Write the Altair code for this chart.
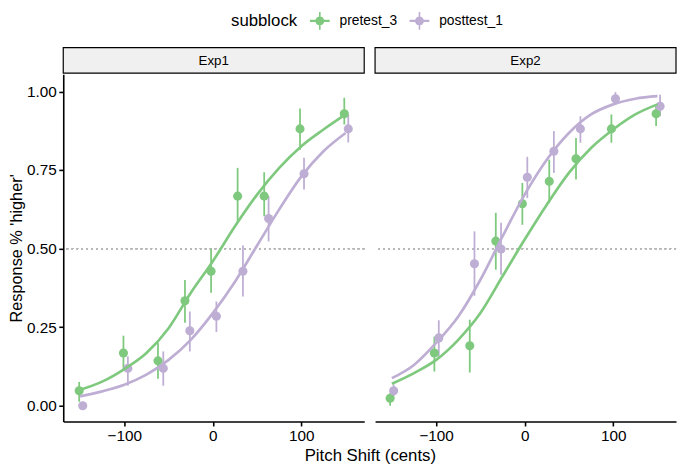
import altair as alt
import pandas as pd

FONT = "Liberation Sans"
SERIES = ["pretest_3", "posttest_1"]
COLORS = ["#7fc97f", "#beaed4"]
PANELS = ["Exp1", "Exp2"]

# ---- observed points (x already dodged as drawn), means and error bar ends ----
e1_pre_x = [-151, -101, -62, -31.5, -2, 28, 58, 98.5, 148.5]
e1_pre_y = [0.048, 0.168, 0.143, 0.334, 0.428, 0.667, 0.667, 0.881, 0.929]
e1_pre_lo = [0.013, 0.115, 0.086, 0.264, 0.36, 0.583, 0.603, 0.815, 0.895]
e1_pre_hi = [0.076, 0.223, 0.2, 0.40, 0.50, 0.757, 0.743, 0.946, 0.98]

e1_post_x = [-147, -96, -56, -26, 4, 34, 63, 103, 153]
e1_post_y = [0.0, 0.119, 0.119, 0.239, 0.285, 0.428, 0.596, 0.738, 0.881]
e1_post_lo = [0.0, 0.064, 0.064, 0.173, 0.235, 0.348, 0.523, 0.688, 0.838]
e1_post_hi = [0.0, 0.157, 0.173, 0.30, 0.332, 0.51, 0.667, 0.789, 0.927]

e2_pre_x = [-152, -102, -62, -32.6, -2.6, 27.8, 58, 98, 148.5]
e2_pre_y = [0.024, 0.168, 0.191, 0.524, 0.643, 0.714, 0.786, 0.881, 0.929]
e2_pre_lo = [0.0, 0.109, 0.106, 0.433, 0.576, 0.645, 0.72, 0.837, 0.89]
e2_pre_hi = [0.04, 0.22, 0.274, 0.614, 0.709, 0.783, 0.852, 0.927, 0.953]

e2_post_x = [-148, -97, -56.7, -26.7, 3, 33, 63, 102.6, 153]
e2_post_y = [0.048, 0.216, 0.452, 0.499, 0.727, 0.81, 0.881, 0.977, 0.953]
e2_post_lo = [0.03, 0.157, 0.35, 0.417, 0.661, 0.741, 0.837, 0.959, 0.921]
e2_post_hi = [0.068, 0.272, 0.555, 0.582, 0.792, 0.874, 0.921, 0.998, 0.99]

# ---- fitted curves ----
curve_x = [-150, -125, -100, -75, -50, -25, 0, 25, 50, 75, 100, 125, 150]
e1_pre_fit = [0.051, 0.077, 0.117, 0.168, 0.247, 0.359, 0.46, 0.571, 0.672, 0.757, 0.826, 0.879, 0.927]
e1_post_fit = [0.03, 0.046, 0.067, 0.099, 0.146, 0.21, 0.295, 0.395, 0.51, 0.625, 0.73, 0.81, 0.868]
e2_pre_fit = [0.07, 0.104, 0.146, 0.21, 0.295, 0.412, 0.529, 0.64, 0.741, 0.82, 0.879, 0.927, 0.959]
e2_post_fit = [0.088, 0.13, 0.2, 0.284, 0.401, 0.539, 0.672, 0.783, 0.868, 0.927, 0.959, 0.977, 0.985]

x_ticks = [-100, 0, 100]
y_ticks = [0, 0.25, 0.5, 0.75, 1.0]

obs = {
    ("Exp1", "pretest_3"): (e1_pre_x, e1_pre_y, e1_pre_lo, e1_pre_hi),
    ("Exp1", "posttest_1"): (e1_post_x, e1_post_y, e1_post_lo, e1_post_hi),
    ("Exp2", "pretest_3"): (e2_pre_x, e2_pre_y, e2_pre_lo, e2_pre_hi),
    ("Exp2", "posttest_1"): (e2_post_x, e2_post_y, e2_post_lo, e2_post_hi),
}
fits = {
    ("Exp1", "pretest_3"): e1_pre_fit,
    ("Exp1", "posttest_1"): e1_post_fit,
    ("Exp2", "pretest_3"): e2_pre_fit,
    ("Exp2", "posttest_1"): e2_post_fit,
}

rows = []
for (p, s), (xs, ys, los, his) in obs.items():
    for x, y, lo, hi in zip(xs, ys, los, his):
        rows.append({"panel": p, "subblock": s, "x": x, "y": y, "lo": lo, "hi": hi})
pts = pd.DataFrame(rows)

crow = []
for (p, s), ys in fits.items():
    for x, y in zip(curve_x, ys):
        crow.append({"panel": p, "subblock": s, "x": x, "y": y})
curves = pd.DataFrame(crow)

PW, PH, SH = 305, 352, 26

LEG_PATH = ("M-0.45,0A0.45,0.45 0 1,0 0.45,0A0.45,0.45 0 1,0 -0.45,0Z "
            "M-1,-0.12V0.12H1V-0.12Z "
            "M-0.08,-0.9V0.9H0.08V-0.9Z")

LEGEND = alt.Legend(
    title="subblock", orient="none", legendX=170, legendY=-37,
    direction="horizontal", titleOrient="left",
    titleFontSize=17, titleFontWeight="normal", titleFont=FONT, titleColor="black",
    labelFontSize=14, labelFont=FONT, labelColor="black",
    symbolType=LEG_PATH, symbolSize=400, symbolStrokeWidth=0, symbolOpacity=1,
    labelOffset=10, columnPadding=12, titlePadding=12,
)


def col():
    return alt.Color("subblock:N", scale=alt.Scale(domain=SERIES, range=COLORS), legend=LEGEND)


def panel(name, show_y):
    xs = alt.Scale(domain=[-169, 171], nice=False, zero=False)
    ys = alt.Scale(domain=[-0.05, 1.055], nice=False, zero=False)
    xax = alt.Axis(values=x_ticks, title=None, grid=False)
    if show_y:
        yax = alt.Axis(values=y_ticks, format=".2f", title="Response % 'higher'", grid=False,
                       titleFontSize=16.5, titleFontWeight="normal", titlePadding=2)
    else:
        yax = None
    d = pts[pts.panel == name]
    c = curves[curves.panel == name]
    ref = alt.Chart(d).mark_rule(color="#b8b8b8", strokeDash=[1.5, 3.5], strokeWidth=1.3).encode(
        y=alt.datum(0.5, scale=ys, axis=yax)
    )
    bars = alt.Chart(d).mark_rule(strokeWidth=1.8).encode(
        x=alt.X("x:Q", scale=xs, axis=xax),
        y=alt.Y("lo:Q", scale=ys, axis=yax),
        y2="hi:Q",
        color=col(),
    )
    dots = alt.Chart(d).mark_circle(size=85, opacity=1).encode(
        x=alt.X("x:Q", scale=xs, axis=xax),
        y=alt.Y("y:Q", scale=ys, axis=yax),
        color=col(),
    )
    lines = alt.Chart(c).mark_line(strokeWidth=2.7, interpolate="monotone").encode(
        x=alt.X("x:Q", scale=xs, axis=xax),
        y=alt.Y("y:Q", scale=ys, axis=yax),
        color=col(),
        detail="subblock:N",
    )
    return alt.layer(ref, bars, dots, lines).properties(width=PW, height=PH)


def strip(name):
    sd = pd.DataFrame({"panel": [name]})
    box = alt.Chart(sd).mark_rect(fill="#f0f0f0", stroke="black", strokeWidth=1.2).encode(
        x=alt.value(0), x2=alt.value(PW), y=alt.value(0), y2=alt.value(SH)
    )
    txt = alt.Chart(sd).mark_text(fontSize=13.5, font=FONT, color="black", baseline="middle").encode(
        x=alt.value(PW / 2), y=alt.value(SH / 2 + 0.5), text="panel:N"
    )
    return alt.layer(box, txt).properties(width=PW, height=SH)


left = alt.vconcat(strip("Exp1"), panel("Exp1", True), spacing=0)
right = alt.vconcat(strip("Exp2"), panel("Exp2", False), spacing=0)

chart = alt.hconcat(left, right, spacing=9).properties(
    padding={"left": 0, "top": 0, "right": 0, "bottom": 0},
    title=alt.TitleParams(
        text="Pitch Shift (cents)", orient="bottom", anchor="middle",
        fontSize=17, fontWeight="normal", font=FONT, color="black", offset=4, dx=28,
    ),
).configure_view(stroke=None).configure_axis(
    domainColor="black", domainWidth=1.6, tickColor="black", tickWidth=1.6, tickSize=4.5,
    labelFontSize=15.5, labelFont=FONT, labelColor="black", labelPadding=2.5,
    titleFont=FONT, titleColor="black",
).resolve_scale(color="shared")

chart.save("out.html", embed_options={"renderer": "svg", "actions": False})
